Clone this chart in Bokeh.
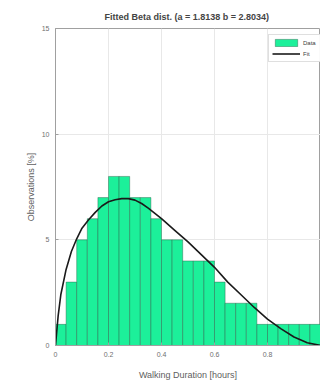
from bokeh.plotting import figure
from bokeh.embed import file_html
from bokeh.resources import INLINE
from bokeh.models import ColumnDataSource, Range1d, FixedTicker, Legend, LegendItem
import numpy as np

# Histogram data (percent of observations), bins of 0.04 hours
bin_width = 0.04
counts = [1, 3, 5, 6, 7, 8, 8, 7, 7, 6, 5, 5, 4, 4, 4, 3, 2, 2, 2, 1, 1, 1, 1, 1, 1]

# Fitted curve points
fit_x = [0.0, 0.01, 0.02, 0.04, 0.06, 0.08, 0.10, 0.125, 0.15, 0.175, 0.20, 0.225,
         0.25, 0.275, 0.30, 0.325, 0.35, 0.40, 0.45, 0.50, 0.55, 0.60, 0.65,
         0.70, 0.75, 0.80, 0.85, 0.90, 0.95, 1.0]
fit_y = [0.0, 1.4, 2.4, 3.6, 4.45, 5.05, 5.55, 5.95, 6.3, 6.6, 6.8, 6.9,
         6.95, 6.95, 6.88, 6.72, 6.5, 6.0, 5.45, 4.9, 4.3, 3.7, 3.0,
         2.4, 1.8, 1.25, 0.8, 0.4, 0.13, 0.0]

x_ticks = [0, 0.2, 0.4, 0.6, 0.8]
y_ticks = [0, 5, 10, 15]

title_text = "Fitted Beta dist. (a = 1.8138  b = 2.8034)"
x_label = "Walking Duration [hours]"
y_label = "Observations [%]"

left = np.arange(len(counts)) * bin_width
src = ColumnDataSource(dict(left=left, right=left + bin_width, top=counts,
                            bottom=[0] * len(counts)))

p = figure(width=320, height=385, output_backend="svg", toolbar_location=None,
           x_range=Range1d(0, 1.0), y_range=Range1d(0, 15),
           min_border_left=55, min_border_right=0, min_border_top=28, min_border_bottom=40)

bars = p.quad(left="left", right="right", top="top", bottom="bottom", source=src,
              fill_color="#1CF09A", line_color="#2a5a44", line_width=0.6, line_alpha=0.7)
fit = p.line(fit_x, fit_y, line_color="#1a1a1a", line_width=1.6)

p.title.text = title_text
p.title.text_font = "Liberation Sans"
p.title.text_font_size = "9px"
p.title.text_font_style = "bold"
p.title.align = "center"
p.title.offset = 0
p.title.standoff = 14

for ax in (p.xaxis, p.yaxis):
    ax.major_tick_in = 3
    ax.major_tick_out = 0
    ax.minor_tick_line_color = None
    ax.axis_line_color = "#a0a0a0"
    ax.major_tick_line_color = "#a0a0a0"
    ax.major_label_text_font = "Liberation Sans"
    ax.major_label_text_font_size = "7px"
    ax.major_label_text_color = "#707070"
    ax.axis_label_text_font = "Liberation Sans"
    ax.axis_label_text_font_size = "9px"
    ax.axis_label_text_font_style = "normal"
    ax.axis_label_text_color = "#606060"

p.xaxis.ticker = FixedTicker(ticks=x_ticks)
p.yaxis.ticker = FixedTicker(ticks=y_ticks)
p.xaxis.axis_label = x_label
p.yaxis.axis_label = y_label
p.xaxis.major_label_standoff = 6
p.yaxis.major_label_standoff = 6
p.xaxis.axis_label_standoff = 10
p.yaxis.axis_label_standoff = 3

p.xgrid.ticker = FixedTicker(ticks=x_ticks)
p.ygrid.ticker = FixedTicker(ticks=y_ticks)
p.grid.grid_line_color = "#e8e8e8"
p.outline_line_color = "#a0a0a0"

legend = Legend(items=[LegendItem(label="Data", renderers=[bars]),
                       LegendItem(label="Fit", renderers=[fit])],
                location=(213, 283))
legend.label_text_font = "Liberation Sans"
legend.label_text_font_size = "6px"
legend.label_text_color = "#404040"
legend.glyph_width = 28
legend.glyph_height = 9
legend.label_height = 9
legend.spacing = 2
legend.padding = 3
legend.margin = 0
legend.label_standoff = 3
legend.border_line_color = "#c0c0c0"
legend.border_line_width = 0.8
p.add_layout(legend)

open("out.html", "w").write(file_html(p, INLINE))
